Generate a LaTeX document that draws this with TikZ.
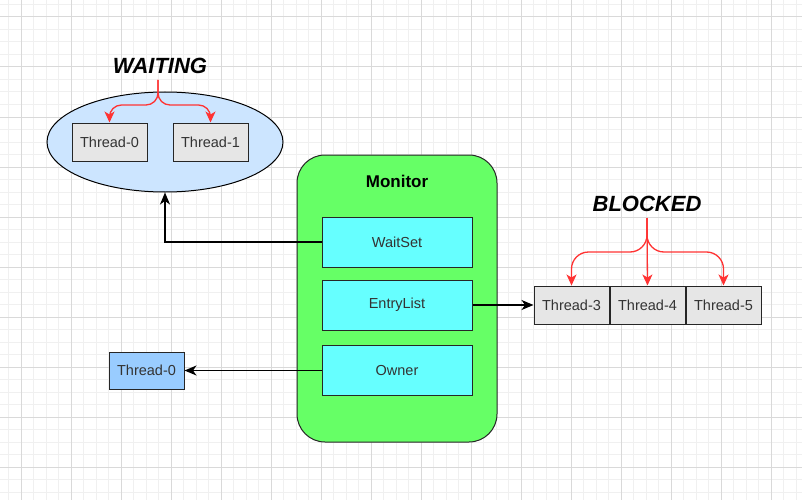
\documentclass[tikz,border=0pt]{standalone}
\usepackage{fontspec}
\setmainfont{Liberation Sans}
\usepackage{tikz}
\usetikzlibrary{positioning}
\usetikzlibrary{shapes,arrows.meta}
\definecolor{gridmajor}{HTML}{D9D9D9}
\definecolor{gridminor}{HTML}{F0F0F0}
\definecolor{monitorgreen}{HTML}{66FF66}
\definecolor{slotcyan}{HTML}{66FFFF}
\definecolor{threadgrey}{HTML}{E6E6E6}
\definecolor{ownerblue}{HTML}{99CCFF}
\definecolor{waitblue}{HTML}{CCE5FF}
\definecolor{forkred}{HTML}{FF3333}
\definecolor{labelgrey}{HTML}{333333}
\tikzstyle{thread} = [rectangle, draw=black!85, fill=threadgrey, text=labelgrey,
    minimum width=75pt, minimum height=38pt, inner sep=0pt, line width=1pt,
    font=\fontsize{14.5}{17}\selectfont]
\tikzstyle{slot} = [rectangle, draw=black!85, fill=slotcyan, text=labelgrey,
    minimum width=150pt, minimum height=50pt, inner sep=0pt, line width=1pt,
    font=\fontsize{14.5}{17}\selectfont]
\tikzstyle{state} = [inner sep=0pt, font=\fontsize{22}{24}\selectfont\bfseries\itshape]
\tikzstyle{line} = [draw, line width=1.3pt, -{Stealth[length=12pt, width=10pt, inset=3.5pt]}]
\tikzstyle{fork} = [draw=forkred, line width=1.3pt, rounded corners=12pt,
    -{Stealth[length=11pt, width=10pt, inset=3pt]}]

\begin{document}
\begin{tikzpicture}[x=1pt, y=-1pt]
        % canvas and grid
        \fill[white] (0,0) rectangle (802,500);
        \useasboundingbox (0,0) rectangle (802,500);
        \foreach \i in {0,...,63} \draw[gridminor, line width=1pt] ({8.5+12.5*\i},0) -- ++(0,500);
        \foreach \i in {0,...,39} \draw[gridminor, line width=1pt] (0,{4.5+12.5*\i}) -- ++(802,0);
        \foreach \i in {0,...,15} \draw[gridmajor, line width=1pt] ({21+50*\i},0) -- ++(0,500);
        \foreach \i in {0,...,9} \draw[gridmajor, line width=1pt] (0,{17+50*\i}) -- ++(802,0);
        % nodes
        \node [ellipse, draw, fill=waitblue, line width=1pt, minimum width=236pt, minimum height=100pt] (waitroom) at (165,142) {};
        \node [thread] (wt0) at (109.5,142) {Thread-0};
        \node [thread, right=25pt of wt0] (wt1) {Thread-1};
        \node [state] (waiting) at (160,66) {WAITING};
        \coordinate (waitfork) at (158,80);
        \node [rectangle, draw=black!85, fill=monitorgreen, line width=1pt, rounded corners=28pt,
            minimum width=200pt, minimum height=287pt] (monitor) at (397,298.5) {};
        \node [font=\fontsize{17}{20}\selectfont\bfseries] (montitle) at (397,181) {Monitor};
        \node [slot] (waitset) at (397,242) {WaitSet};
        \node [slot] (entrylist) at (397,305) {EntryList};
        \node [slot] (owner) at (397,370.5) {Owner};
        \node [thread, fill=ownerblue, minimum height=37pt] (ot0) at (146.5,370.5) {Thread-0};
        \node [thread] (bt3) at (571.5,305) {Thread-3};
        \node [thread, right=0pt of bt3] (bt4) {Thread-4};
        \node [thread, right=0pt of bt4] (bt5) {Thread-5};
        \node [state] (blocked) at (647,204) {BLOCKED};
        \coordinate (blockfork) at (647,218);
        % edges
        \path [line] (waitset.west) -| (waitroom.south);
        \path [line] (entrylist.east) -- (bt3.west);
        \path [line] (owner.west) -- (ot0.east);
        \path [fork] (waitfork) -- ++(0,25) -| (wt0.north);
        \path [fork] (waitfork) -- ++(0,25) -| (wt1.north);
        \path [fork, rounded corners=17pt] (blockfork) -- ++(0,34) -| (bt3.north);
        \path [fork] (blockfork) -- (bt4.north);
        \path [fork, rounded corners=17pt] (blockfork) -- ++(0,34) -| (bt5.north);
    \end{tikzpicture}
\end{document}
